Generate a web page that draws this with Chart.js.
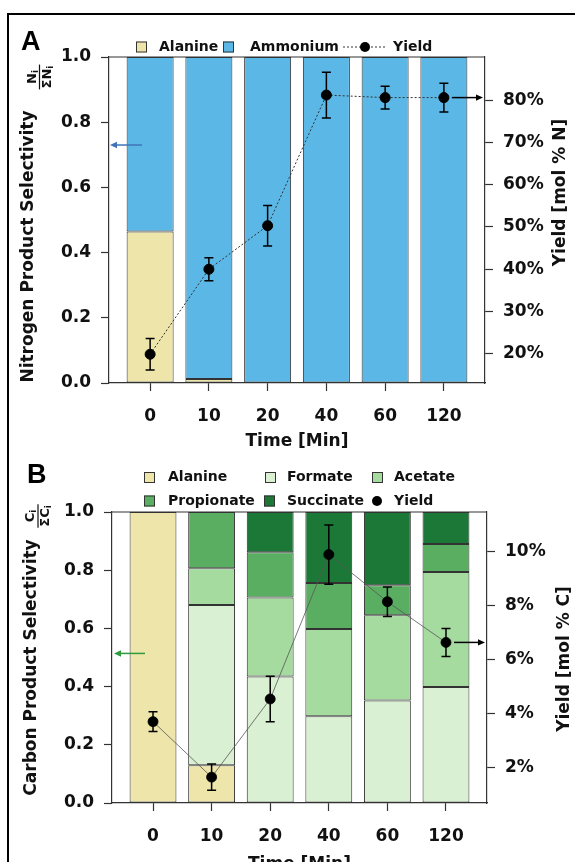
<!DOCTYPE html>
<html lang="en">
<head>
<meta charset="UTF-8">
<title>Product selectivity and yield</title>
<style>
    html, body {
        margin: 0;
        padding: 0;
        width: 575px;
        height: 862px;
        background: #fff;
        overflow: hidden;
    }
    .frame-top {
        position: absolute;
        left: 7px;
        top: 13px;
        width: 568px;
        height: 2px;
        background: #000;
    }
    .frame-left {
        position: absolute;
        left: 7px;
        top: 13px;
        width: 2px;
        height: 849px;
        background: #000;
    }
    canvas {
        position: absolute;
        left: 0;
    }
    #chartA { top: 0; }
    #chartB { top: 445px; }
</style>
</head>
<body>
<div class="frame-top"></div>
<div class="frame-left"></div>
<canvas id="chartA" width="575" height="460"></canvas>
<canvas id="chartB" width="575" height="417"></canvas>

<script src="https://cdn.jsdelivr.net/npm/chart.js"></script>
<script>
    // time points (x axis)
    const timeLabels = ['0', '10', '20', '40', '60', '120'];

    // panel A: nitrogen selectivity
    const nAlanine = [0.465, 0.012, 0, 0, 0, 0];
    const nAmmonium = [0.535, 0.988, 1, 1, 1, 1];
    const nYield = [19.9, 40.0, 50.3, 81.2, 80.6, 80.6];
    const nYieldErr = [3.7, 2.7, 4.8, 5.4, 2.7, 3.4];
    const nYieldTicks = [20, 30, 40, 50, 60, 70, 80];

    // panel B: carbon selectivity
    const cAlanine = [1.0, 0.13, 0, 0, 0, 0];
    const cFormate = [0, 0.55, 0.435, 0.298, 0.352, 0.399];
    const cAcetate = [0, 0.127, 0.271, 0.300, 0.293, 0.395];
    const cPropionate = [0, 0.193, 0.156, 0.158, 0.103, 0.096];
    const cSuccinate = [0, 0, 0.138, 0.244, 0.252, 0.110];
    const cYield = [3.70, 1.64, 4.54, 9.90, 8.15, 6.64];
    const cYieldErr = [0.37, 0.49, 0.84, 1.10, 0.55, 0.52];
    const cYieldTicks = [2, 4, 6, 8, 10];

    const selTicks = [0, 0.2, 0.4, 0.6, 0.8, 1.0];

    const FONT = '"DejaVu Sans", sans-serif';
    const INK = '#111';
    const EDGE = '#333';

    const colors = {
        alanine: '#EEE5AB',
        ammonium: '#5BB7E5',
        formate: '#D9F0D3',
        acetate: '#A6DBA0',
        propionate: '#5AAE61',
        succinate: '#1B7837'
    };

    Chart.defaults.font.family = FONT;
    Chart.defaults.color = INK;

    const toXY = arr => arr.map((v, i) => ({ x: i, y: v }));

    function barSet(label, values, color) {
        return {
            type: 'bar',
            label: label,
            data: toXY(values),
            backgroundColor: color,
            borderColor: EDGE,
            borderWidth: 1,
            borderSkipped: false,
            barPercentage: 0.8,
            categoryPercentage: 1.0,
            yAxisID: 'y',
            order: 1
        };
    }

    function rotText(ctx, text, x, y, font) {
        ctx.save();
        ctx.translate(x, y);
        ctx.rotate(-Math.PI / 2);
        ctx.font = font;
        ctx.fillStyle = INK;
        ctx.textAlign = 'center';
        ctx.textBaseline = 'middle';
        ctx.fillText(text, 0, 0);
        ctx.restore();
    }

    // rotated fraction  X_i / ΣX_i
    function fraction(ctx, x, y, sym) {
        const big = 'bold 13px ' + FONT;
        const small = 'bold 9px ' + FONT;
        ctx.save();
        ctx.translate(x, y);
        ctx.rotate(-Math.PI / 2);
        ctx.fillStyle = INK;
        ctx.textAlign = 'left';
        ctx.textBaseline = 'alphabetic';
        ctx.font = big;
        const wN = ctx.measureText(sym).width;
        const wS = ctx.measureText('\u03A3' + sym).width;
        ctx.font = small;
        const wi = ctx.measureText('i').width;
        const numW = wN + wi, denW = wS + wi;
        const barW = Math.max(numW, denW) + 2;
        ctx.font = big;
        ctx.fillText(sym, -numW / 2, -4);
        ctx.font = small;
        ctx.fillText('i', -numW / 2 + wN, -1.8);
        ctx.fillRect(-barW / 2, -0.6, barW, 1.2);
        ctx.font = big;
        ctx.fillText('\u03A3' + sym, -denW / 2, 11);
        ctx.font = small;
        ctx.fillText('i', -denW / 2 + wS, 13.2);
        ctx.restore();
    }

    function arrow(ctx, x1, y, x2, color) {
        const dir = Math.sign(x2 - x1);
        ctx.save();
        ctx.strokeStyle = color;
        ctx.fillStyle = color;
        ctx.lineWidth = 1.5;
        ctx.beginPath();
        ctx.moveTo(x1, y);
        ctx.lineTo(x2 - dir * 5, y);
        ctx.stroke();
        ctx.beginPath();
        ctx.moveTo(x2, y);
        ctx.lineTo(x2 - dir * 7, y - 3.2);
        ctx.lineTo(x2 - dir * 7, y + 3.2);
        ctx.closePath();
        ctx.fill();
        ctx.restore();
    }

    function legendBox(ctx, x, y, color) {
        ctx.fillStyle = color;
        ctx.fillRect(x, y - 5.5, 11, 11);
        ctx.strokeStyle = EDGE;
        ctx.lineWidth = 1;
        ctx.strokeRect(x + 0.5, y - 5, 10, 10);
    }

    function legendText(ctx, x, y, text) {
        ctx.fillStyle = INK;
        ctx.font = 'bold 14px ' + FONT;
        ctx.textAlign = 'left';
        ctx.textBaseline = 'middle';
        ctx.fillText(text, x, y);
    }

    function dot(ctx, x, y) {
        ctx.fillStyle = '#000';
        ctx.beginPath();
        ctx.arc(x, y, 5, 0, Math.PI * 2);
        ctx.fill();
    }

    function extras(cfg) {
        return {
            id: 'extras',
            beforeDatasetDraw(chart, args) {
                if (args.index !== cfg.lineIndex) return;
                const ctx = chart.ctx;
                const xs = chart.scales.x, ys = chart.scales.y2;
                ctx.save();
                ctx.strokeStyle = '#000';
                ctx.lineWidth = 1.5;
                ctx.beginPath();
                cfg.yields.forEach((v, i) => {
                    const px = xs.getPixelForValue(i);
                    const t = ys.getPixelForValue(v + cfg.errs[i]);
                    const b = ys.getPixelForValue(v - cfg.errs[i]);
                    ctx.moveTo(px, t); ctx.lineTo(px, b);
                    ctx.moveTo(px - 4.5, t); ctx.lineTo(px + 4.5, t);
                    ctx.moveTo(px - 4.5, b); ctx.lineTo(px + 4.5, b);
                });
                ctx.stroke();
                ctx.restore();
            },
            afterDraw(chart) {
                const ctx = chart.ctx;
                const a = chart.chartArea;
                ctx.save();
                // top spine
                ctx.strokeStyle = EDGE;
                ctx.lineWidth = 1.2;
                ctx.beginPath();
                ctx.moveTo(a.left, a.top);
                ctx.lineTo(a.right, a.top);
                ctx.stroke();

                // arrows
                const ys = chart.scales.y, y2 = chart.scales.y2, xs = chart.scales.x;
                arrow(ctx, cfg.leftArrow.x1, ys.getPixelForValue(cfg.leftArrow.v), cfg.leftArrow.x2, cfg.leftArrow.color);
                const n = cfg.yields.length - 1;
                const startX = xs.getPixelForValue(n) + 8;
                arrow(ctx, startX, y2.getPixelForValue(cfg.yields[n]), a.right - 2, '#000');

                // panel letter
                ctx.fillStyle = '#000';
                ctx.font = 'bold 27px "Liberation Sans", sans-serif';
                ctx.textAlign = 'left';
                ctx.textBaseline = 'alphabetic';
                ctx.fillText(cfg.letter, cfg.letterPos[0], cfg.letterPos[1]);

                // axis titles
                const tf = 'bold 17px ' + FONT;
                rotText(ctx, cfg.leftTitle, cfg.leftTitlePos[0], cfg.leftTitlePos[1], tf);
                fraction(ctx, cfg.fracPos[0], cfg.fracPos[1], cfg.fracSym);
                rotText(ctx, cfg.rightTitle, cfg.rightTitlePos[0], cfg.rightTitlePos[1], tf);
                ctx.font = tf;
                ctx.fillStyle = INK;
                ctx.textAlign = 'center';
                ctx.textBaseline = 'middle';
                ctx.fillText('Time [Min]', cfg.xTitlePos[0], cfg.xTitlePos[1]);

                cfg.drawLegend(ctx);
                ctx.restore();
            }
        };
    }

    function makeChart(id, cfg) {
        const grid = {
            display: true,
            offset: false,
            drawOnChartArea: false,
            drawTicks: true,
            tickLength: 8,
            tickColor: EDGE,
            tickWidth: 1.2
        };
        const border = { display: true, color: EDGE, width: 1.2 };
        const tickFont = { size: 17, weight: 'bold' };

        return new Chart(document.getElementById(id), {
            data: { datasets: cfg.datasets },
            options: {
                responsive: false,
                animation: false,
                devicePixelRatio: 1,
                layout: { padding: { top: cfg.top, left: 0, right: 0, bottom: 0 } },
                plugins: { legend: { display: false }, tooltip: { enabled: false } },
                scales: {
                    x: {
                        type: 'linear',
                        min: -0.7,
                        max: 5.7,
                        offset: false,
                        stacked: true,
                        afterBuildTicks: s => { s.ticks = timeLabels.map((_, i) => ({ value: i })); },
                        afterFit: s => { s.height = cfg.xHeight; },
                        grid: grid,
                        border: border,
                        ticks: {
                            callback: v => timeLabels[v],
                            font: tickFont,
                            color: INK,
                            padding: 15,
                            maxRotation: 0,
                            autoSkip: false
                        }
                    },
                    y: {
                        position: 'left',
                        min: 0,
                        max: 1,
                        stacked: true,
                        afterBuildTicks: s => { s.ticks = selTicks.map(v => ({ value: v })); },
                        afterFit: s => { s.width = cfg.leftWidth; },
                        grid: grid,
                        border: border,
                        ticks: { callback: v => v.toFixed(1), font: tickFont, color: INK, padding: 10 }
                    },
                    y2: {
                        position: 'right',
                        min: cfg.y2min,
                        max: cfg.y2max,
                        afterBuildTicks: s => { s.ticks = cfg.y2ticks.map(v => ({ value: v })); },
                        afterFit: s => { s.width = cfg.rightWidth; },
                        grid: grid,
                        border: border,
                        ticks: { callback: v => v + '%', font: tickFont, color: INK, padding: 10 }
                    }
                }
            },
            plugins: [extras(cfg)]
        });
    }

    // ---- panel A ----
    makeChart('chartA', {
        top: 57,
        xHeight: 77,
        leftWidth: 109,
        rightWidth: 90,
        y2min: 13.1,
        y2max: 90.2,
        y2ticks: nYieldTicks,
        lineIndex: 2,
        yields: nYield,
        errs: nYieldErr,
        leftArrow: { v: 0.73, x1: 142, x2: 110, color: '#3F74B8' },
        letter: 'A',
        letterPos: [21, 50],
        leftTitle: 'Nitrogen Product Selectivity',
        leftTitlePos: [28.5, 246.5],
        fracSym: 'N',
        fracPos: [39.5, 77],
        rightTitle: 'Yield [mol % N]',
        rightTitlePos: [560.5, 192.5],
        xTitlePos: [297, 442],
        datasets: [
            barSet('Alanine', nAlanine, colors.alanine),
            barSet('Ammonium', nAmmonium, colors.ammonium),
            {
                type: 'line',
                label: 'Yield',
                data: toXY(nYield),
                yAxisID: 'y2',
                borderColor: EDGE,
                borderWidth: 1,
                borderDash: [2, 2],
                pointRadius: 5,
                pointBackgroundColor: '#000',
                pointBorderColor: '#000',
                tension: 0,
                order: 0
            }
        ],
        drawLegend(ctx) {
            const y = 47;
            legendBox(ctx, 136, y, colors.alanine);
            legendText(ctx, 159, y, 'Alanine');
            legendBox(ctx, 223, y, colors.ammonium);
            legendText(ctx, 250, y, 'Ammonium');
            ctx.strokeStyle = EDGE;
            ctx.lineWidth = 1;
            ctx.setLineDash([2, 2]);
            ctx.beginPath();
            ctx.moveTo(343, y);
            ctx.lineTo(387, y);
            ctx.stroke();
            ctx.setLineDash([]);
            dot(ctx, 365, y);
            legendText(ctx, 393, y, 'Yield');
        }
    });

    // ---- panel B ----
    makeChart('chartB', {
        top: 67,
        xHeight: 59,
        leftWidth: 112,
        rightWidth: 88,
        y2min: 0.68,
        y2max: 11.48,
        y2ticks: cYieldTicks,
        lineIndex: 5,
        yields: cYield,
        errs: cYieldErr,
        leftArrow: { v: 0.514, x1: 145, x2: 114, color: '#2E9A3E' },
        letter: 'B',
        letterPos: [27, 38],
        leftTitle: 'Carbon Product Selectivity',
        leftTitlePos: [31.5, 222.5],
        fracSym: 'C',
        fracPos: [38, 71],
        rightTitle: 'Yield [mol % C]',
        rightTitlePos: [565, 214],
        xTitlePos: [299.5, 420],
        datasets: [
            barSet('Alanine', cAlanine, colors.alanine),
            barSet('Formate', cFormate, colors.formate),
            barSet('Acetate', cAcetate, colors.acetate),
            barSet('Propionate', cPropionate, colors.propionate),
            barSet('Succinate', cSuccinate, colors.succinate),
            {
                type: 'line',
                label: 'Yield',
                data: toXY(cYield),
                yAxisID: 'y2',
                borderColor: '#555',
                borderWidth: 0.8,
                pointRadius: 5,
                pointBackgroundColor: '#000',
                pointBorderColor: '#000',
                tension: 0,
                order: 0
            }
        ],
        drawLegend(ctx) {
            const r1 = 32.5, r2 = 56;
            legendBox(ctx, 144, r1, colors.alanine);
            legendText(ctx, 168, r1, 'Alanine');
            legendBox(ctx, 265, r1, colors.formate);
            legendText(ctx, 287, r1, 'Formate');
            legendBox(ctx, 372, r1, colors.acetate);
            legendText(ctx, 394, r1, 'Acetate');
            legendBox(ctx, 144, r2, colors.propionate);
            legendText(ctx, 168, r2, 'Propionate');
            legendBox(ctx, 264, r2, colors.succinate);
            legendText(ctx, 287, r2, 'Succinate');
            dot(ctx, 377, r2);
            legendText(ctx, 394, r2, 'Yield');
        }
    });
</script>
</body>
</html>
